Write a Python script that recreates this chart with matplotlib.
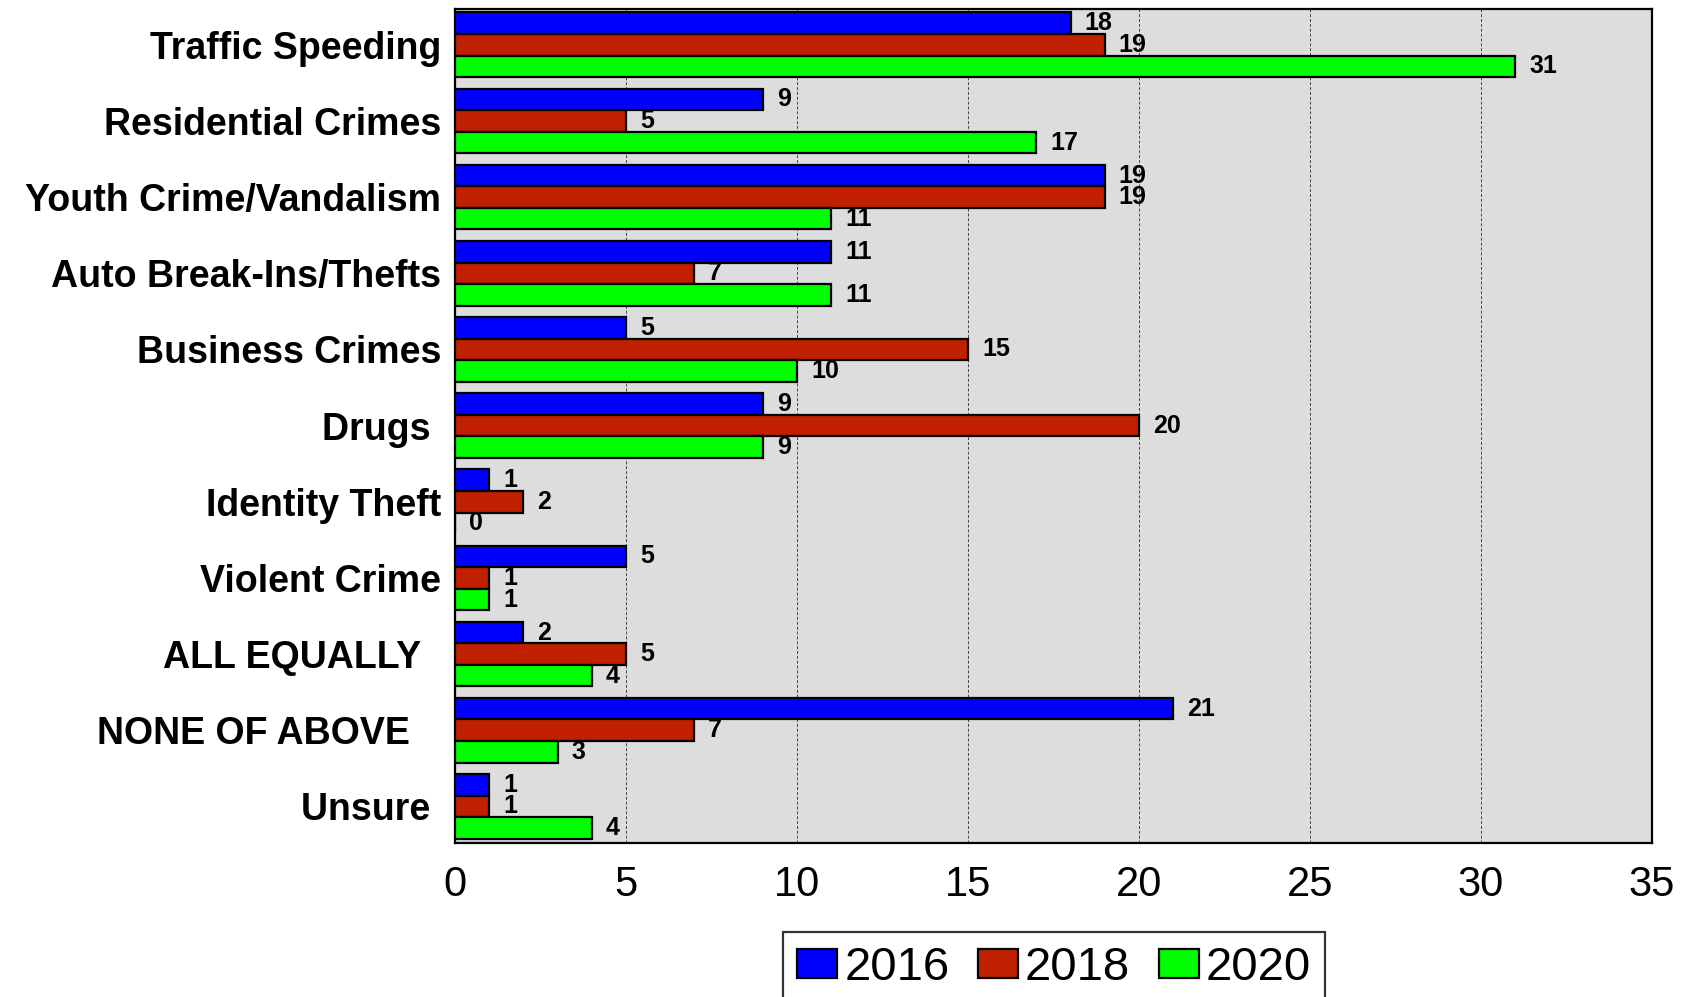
import numpy as np
import matplotlib.pyplot as plt

categories = ["Traffic Speeding", "Residential Crimes", "Youth Crime/Vandalism",
              "Auto Break-Ins/Thefts", "Business Crimes", "Drugs ", "Identity Theft",
              "Violent Crime", "ALL EQUALLY  ", "NONE OF ABOVE   ", "Unsure "]
v2016 = [18, 9, 19, 11, 5, 9, 1, 5, 2, 21, 1]
v2018 = [19, 5, 19, 7, 15, 20, 2, 1, 5, 7, 1]
v2020 = [31, 17, 11, 11, 10, 9, 0, 1, 4, 3, 4]
years = ["2016", "2018", "2020"]
colors = ["#0000FF", "#C02000", "#00FF00"]

plt.rcParams['font.family'] = ['Liberation Sans', 'DejaVu Sans']

fig = plt.figure(figsize=(16.92, 9.97), dpi=100)
ax = fig.add_axes([455 / 1692, 1 - 843 / 997, (1652 - 455) / 1692, (843 - 9) / 997])
ax.set_facecolor("#DDDDDD")

y = np.arange(len(categories))
h = 0.283
series = [v2016, v2018, v2020]
for i, (vals, col, yr) in enumerate(zip(series, colors, years)):
    pos = y + (i - 1) * h
    ax.barh(pos, vals, height=h, color=col, edgecolor="black",
            linewidth=1.6, label=yr, zorder=3)
    for p, v in zip(pos, vals):
        ax.annotate(str(v), (v, p), xytext=(10, 0), textcoords="offset points",
                    ha="left", va="center", fontsize=18, fontweight="bold",
                    fontstretch="condensed")

ax.set_xlim(0, 35)
ax.set_ylim(10.48, -0.47)
ax.set_xticks(np.arange(0, 36, 5))
ax.set_yticks(y)
ax.set_yticklabels(categories, fontsize=27, fontweight="bold")
ax.tick_params(axis="x", labelsize=30, length=0, pad=16)
ax.tick_params(axis="y", length=0, pad=10)
ax.grid(axis="x", color="#444444", linestyle=(0, (3, 2)), linewidth=0.7, zorder=0)
for s in ax.spines.values():
    s.set_linewidth(1.6)
    s.set_color("black")

leg = fig.legend(loc="upper center", bbox_to_anchor=(1054 / 1692, 1 - 932 / 997),
                 ncol=3, fontsize=34, frameon=True, fancybox=False,
                 edgecolor="black", handlelength=0.85, handleheight=0.55,
                 handletextpad=0.15, columnspacing=0.6, borderpad=0.3,
                 borderaxespad=0)
leg.get_frame().set_linewidth(1.6)

fig.savefig("out.png", dpi=100)
